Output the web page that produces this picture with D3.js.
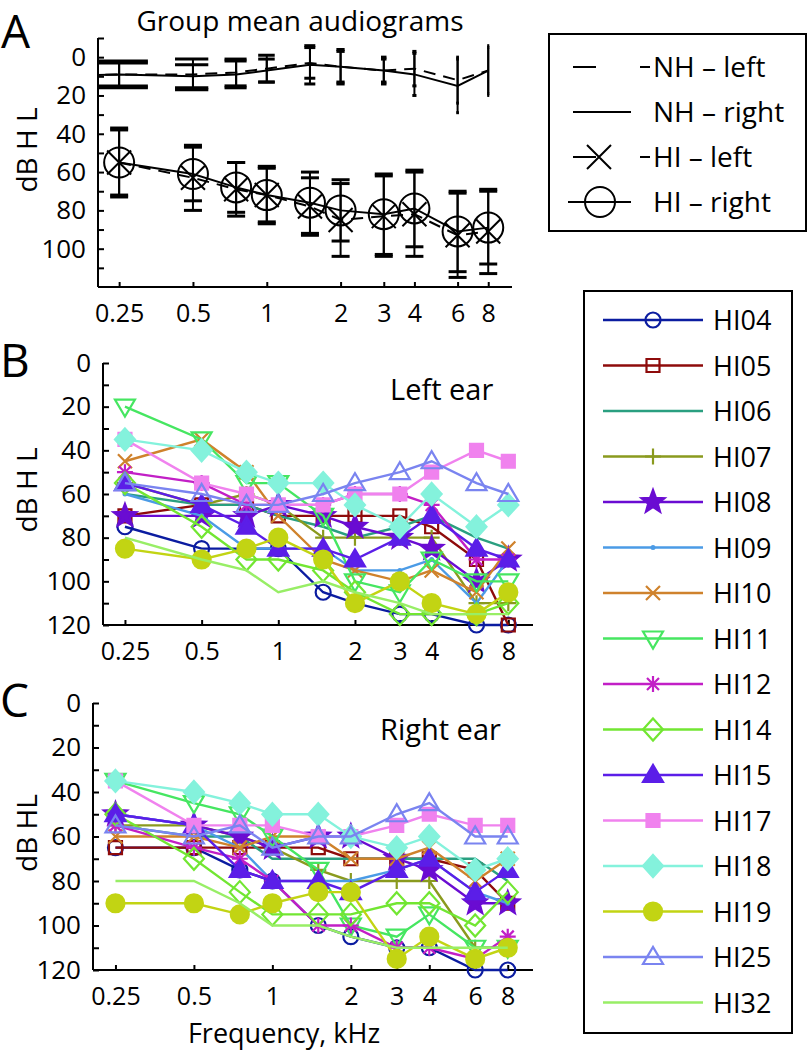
<!DOCTYPE html>
<head>
    <meta charset="utf-8">
    <script src="https://d3js.org/d3.v7.min.js"></script>
</head>
<body style="margin:0; background: white">
<div id="my_dataviz"></div>
<script>
// ---- data -------------------------------------------------------------
var freqs = [0.25, 0.5, 0.75, 1, 1.5, 2, 3, 4, 6, 8];
var freqsNH = [0.125, 0.25, 0.5, 0.75, 1, 1.5, 2, 3, 4, 6, 8];
var xTickValues = [0.25, 0.5, 1, 2, 3, 4, 6, 8];

// group means (panel A), dB HL
var nhLeft    = [10, 9, 9, 8, 6, 3, 5, 7, 6, 12, 7];
var nhLeftSd  = [7, 7, 8, 7, 7, 8, 8, 6, 9, 12, 12];
var nhRight   = [10, 9, 10, 9, 7, 4, 5, 7, 9, 15, 7];
var nhRightSd = [7, 6, 6, 7, 6, 10, 9, 7, 11, 14, 13];
var hiLeft    = [55, 63, 69, 72, 78, 85, 83, 82, 93, 91];
var hiLeftSd  = [18, 17, 14, 15, 15, 19, 21, 22, 22, 22];
var hiRight   = [55, 61, 68, 72, 76, 80, 82, 79, 91, 89];
var hiRightSd = [17, 14, 13, 14, 16, 16, 21, 20, 21, 19];

var subjects = ["HI04", "HI05", "HI06", "HI07", "HI08", "HI09", "HI10", "HI11",
                "HI12", "HI14", "HI15", "HI17", "HI18", "HI19", "HI25", "HI32"];

// one row per subject, same order as subjects
var leftEar = [
    [75, 85, 85, 85, 105, 110, 115, 115, 120, 120],
    [70, 65, 65, 70, 70, 70, 70, 75, 90, 120],
    [60, 65, 65, 70, 75, 80, 75, 70, 80, 85],
    [55, 65, 60, 65, 80, 80, 80, 80, 110, 110],
    [70, 70, 70, 65, 70, 75, 80, 85, 100, 90],
    [60, 70, 85, 85, 85, 95, 95, 90, 110, 90],
    [45, 35, 50, 70, 90, 95, 100, 95, 105, 85],
    [20, 35, 55, 55, 70, 100, 105, 90, 100, 100],
    [50, 55, 65, 65, 65, 60, 60, 65, 90, 90],
    [55, 75, 90, 90, 95, 105, 115, 115, 115, 110],
    [55, 65, 75, 85, 85, 90, 80, 70, 85, 90],
    [35, 55, 60, 65, 65, 60, 60, 50, 40, 45],
    [35, 40, 50, 55, 55, 65, 75, 60, 75, 65],
    [85, 90, 85, 80, 90, 110, 100, 110, 115, 105],
    [55, 60, 65, 65, 60, 55, 50, 45, 55, 60],
    [80, 90, 95, 105, 100, 105, 110, 115, 115, 115]
];
var rightEar = [
    [65, 65, 75, 80, 100, 105, 110, 110, 120, 120],
    [65, 65, 65, 65, 65, 70, 70, 70, 75, 90],
    [55, 60, 60, 70, 70, 70, 70, 70, 70, 80],
    [55, 55, 60, 65, 75, 80, 80, 80, 110, 110],
    [50, 55, 60, 65, 60, 60, 70, 75, 90, 90],
    [50, 55, 65, 80, 80, 80, 75, 70, 85, 90],
    [60, 60, 65, 60, 60, 70, 70, 65, 80, 70],
    [35, 45, 50, 60, 75, 100, 105, 95, 110, 110],
    [55, 65, 70, 80, 100, 100, 110, 110, 115, 105],
    [50, 70, 85, 95, 95, 95, 90, 90, 100, 85],
    [50, 55, 75, 80, 80, 85, 75, 70, 85, 75],
    [35, 55, 55, 55, 60, 60, 55, 50, 55, 55],
    [35, 40, 45, 50, 50, 60, 65, 60, 75, 70],
    [90, 90, 95, 90, 85, 85, 115, 105, 115, 110],
    [55, 60, 55, 65, 60, 60, 50, 45, 60, 60],
    [80, 80, 90, 100, 100, 105, 110, 110, 110, 110]
];

// ---- styles -----------------------------------------------------------
var colors = ["#0b1ca0", "#8e0b0b", "#2a9f80", "#8a9a1e", "#6a0cd2", "#4b9be6",
              "#cf822c", "#46e661", "#c21fc6", "#72e632", "#5b1ee8", "#f082ee",
              "#84f2dc", "#c2d413", "#7a84f0", "#98ee66"];
var markers = ["o", "s", "none", "+", "p", ".", "x", "v",
               "*", "d", "^", "s", "d", "o", "^", "none"];
var filled = [false, false, false, false, true, true, false, false,
              false, false, true, true, true, true, false, false];

var font = "'Open Sans', sans-serif";

var svg = d3.select("#my_dataviz")
    .append("svg")
    .attr("width", 810)
    .attr("height", 1053);

// ---- helpers ----------------------------------------------------------
function markerPath(type) {
    switch (type) {
        case "s": return "M-6.5,-6.5H6.5V6.5H-6.5Z";
        case "+": return "M-8,0H8M0,-8V8";
        case "x": return "M-7,-7L7,7M-7,7L7,-7";
        case "*": return "M-8,0H8M0,-8V8M-6,-6L6,6M-6,6L6,-6";
        case "v": return "M-10,-7L10,-7L0,10Z";
        case "^": return "M-10,7L10,7L0,-10Z";
        case "d": return "M0,-11L10,0L0,11L-10,0Z";
        case "p":
            var pts = [];
            for (var k = 0; k < 10; k++) {
                var r = k % 2 === 0 ? 12 : 5;
                var a = -Math.PI / 2 + k * Math.PI / 5;
                pts.push((r * Math.cos(a)).toFixed(2) + "," + (r * Math.sin(a)).toFixed(2));
            }
            return "M" + pts.join("L") + "Z";
    }
    return null;
}

function drawMarker(g, type, cx, cy, color, isFilled) {
    if (type === "none") return;
    if (type === "o") {
        g.append("circle").attr("cx", cx).attr("cy", cy)
            .attr("r", isFilled ? 9 : 7.5)
            .attr("fill", isFilled ? color : "none")
            .attr("stroke", color).attr("stroke-width", 2.2);
    } else if (type === ".") {
        g.append("circle").attr("cx", cx).attr("cy", cy).attr("r", 2.5).attr("fill", color);
    } else {
        g.append("path").attr("d", markerPath(type))
            .attr("transform", "translate(" + cx + "," + cy + ")")
            .attr("fill", isFilled ? color : "none")
            .attr("stroke", color).attr("stroke-width", 2.2)
            .attr("stroke-linejoin", "miter");
    }
}

function drawAxes(x, y, yTicks, yLabelOk) {
    var gy = svg.append("g")
        .attr("transform", "translate(" + x.range()[0] + ",0)")
        .call(d3.axisLeft(y).tickValues(yTicks).tickSizeInner(-6).tickSizeOuter(0)
            .tickPadding(12).tickFormat(function (d) { return yLabelOk(d) ? d : ""; }));
    var gx = svg.append("g")
        .attr("transform", "translate(0," + y.range()[1] + ")")
        .call(d3.axisBottom(x).tickValues(xTickValues).tickSizeInner(-5).tickSizeOuter(0)
            .tickPadding(17).tickFormat(function (d) { return String(d); }));
    gy.attr("font-size", 26);
    gx.attr("font-size", 25);
    [gx, gy].forEach(function (g) {
        g.attr("font-family", font);
        g.selectAll("path, line").attr("stroke", "black").attr("stroke-width", 2);
        g.selectAll("text").attr("fill", "black");
    });
    gx.select(".domain").attr("d", "M" + x.range()[0] + ",0H" + x.range()[1]);
    gy.select(".domain").attr("d", "M0," + y.range()[0] + "V" + y.range()[1]);
}

function label(txt, x, y, size, anchor) {
    return svg.append("text").attr("x", x).attr("y", y)
        .attr("font-family", font).attr("font-size", size)
        .attr("text-anchor", anchor || "start").text(txt);
}

function yTitle(txt, x, y) {
    svg.append("text")
        .attr("transform", "translate(" + x + "," + y + ") rotate(-90)")
        .attr("font-family", font).attr("font-size", 28)
        .attr("text-anchor", "middle").text(txt);
}

// ---- panel A ----------------------------------------------------------
var xA = d3.scaleLog().domain([0.205, 10]).range([98, 512]);
var yA = d3.scaleLinear().domain([-10, 120]).range([38, 287]);

svg.append("clipPath").attr("id", "clipA").append("rect")
    .attr("x", 98).attr("y", 30).attr("width", 414).attr("height", 257);

drawAxes(xA, yA, d3.range(-10, 111, 10), function (d) { return d >= 0 && d <= 100 && d % 20 === 0; });

var gA = svg.append("g").attr("clip-path", "url(#clipA)");
var lineNH = d3.line().x(function (d, i) { return xA(freqsNH[i]); }).y(function (d) { return yA(d); });
var lineHI = d3.line().x(function (d, i) { return xA(freqs[i]); }).y(function (d) { return yA(d); });
var tee = (8 - 0.25) / 100;

function nhBars(mean, sd) {
    mean.forEach(function (m, i) {
        var f = freqsNH[i];
        gA.append("line").attr("x1", xA(f)).attr("x2", xA(f))
            .attr("y1", yA(m - sd[i])).attr("y2", yA(m + sd[i]))
            .attr("stroke", "black").attr("stroke-width", 2);
        [m - sd[i], m + sd[i]].forEach(function (v) {
            gA.append("line").attr("x1", xA(Math.max(f - tee, 0.02))).attr("x2", xA(f + tee))
                .attr("y1", yA(v)).attr("y2", yA(v))
                .attr("stroke", "black").attr("stroke-width", 3);
        });
    });
}
function hiBars(mean, sd) {
    mean.forEach(function (m, i) {
        var cx = xA(freqs[i]);
        gA.append("line").attr("x1", cx).attr("x2", cx)
            .attr("y1", yA(m - sd[i])).attr("y2", yA(m + sd[i]))
            .attr("stroke", "black").attr("stroke-width", 2);
        [m - sd[i], m + sd[i]].forEach(function (v) {
            gA.append("line").attr("x1", cx - 9).attr("x2", cx + 9)
                .attr("y1", yA(v)).attr("y2", yA(v))
                .attr("stroke", "black").attr("stroke-width", 3);
        });
    });
}

nhBars(nhLeft, nhLeftSd);
nhBars(nhRight, nhRightSd);
gA.append("path").attr("d", lineNH(nhLeft)).attr("fill", "none")
    .attr("stroke", "black").attr("stroke-width", 2).attr("stroke-dasharray", "12,8");
gA.append("path").attr("d", lineNH(nhRight)).attr("fill", "none")
    .attr("stroke", "black").attr("stroke-width", 2);

hiBars(hiLeft, hiLeftSd);
hiBars(hiRight, hiRightSd);
gA.append("path").attr("d", lineHI(hiLeft)).attr("fill", "none")
    .attr("stroke", "black").attr("stroke-width", 2).attr("stroke-dasharray", "12,8");
gA.append("path").attr("d", lineHI(hiRight)).attr("fill", "none")
    .attr("stroke", "black").attr("stroke-width", 2);
hiLeft.forEach(function (v, i) {
    gA.append("path").attr("d", "M-12,-12L12,12M-12,12L12,-12")
        .attr("transform", "translate(" + xA(freqs[i]) + "," + yA(v) + ")")
        .attr("stroke", "black").attr("stroke-width", 2).attr("fill", "none");
});
hiRight.forEach(function (v, i) {
    gA.append("circle").attr("cx", xA(freqs[i])).attr("cy", yA(v)).attr("r", 15)
        .attr("fill", "none").attr("stroke", "black").attr("stroke-width", 2);
});

label("Group mean audiograms", 300, 31, 28, "middle");
label("A", 1, 48, 46);
yTitle("dB H L", 37, 150);

// ---- legend A ---------------------------------------------------------
var legA = svg.append("g").attr("font-family", font).attr("font-size", 28);
legA.append("rect").attr("x", 549).attr("y", 34).attr("width", 257).attr("height", 197)
    .attr("fill", "white").attr("stroke", "black").attr("stroke-width", 2);
var legARows = [
    {txt: "NH \u2013 left", dash: true, mark: null, y: 67},
    {txt: "NH \u2013 right", dash: false, mark: null, y: 112},
    {txt: "HI \u2013 left", dash: true, mark: "x", y: 157},
    {txt: "HI \u2013 right", dash: false, mark: "o", y: 202}
];
legARows.forEach(function (r) {
    legA.append("line").attr("x1", r.mark === "o" ? 568 : 573).attr("x2", r.dash ? 650 : 631)
        .attr("y1", r.y).attr("y2", r.y)
        .attr("stroke", "black").attr("stroke-width", 2)
        .attr("stroke-dasharray", r.dash ? "23,44" : null);
    if (r.mark === "x") {
        legA.append("path").attr("d", "M-12,-12L12,12M-12,12L12,-12")
            .attr("transform", "translate(599," + r.y + ")")
            .attr("stroke", "black").attr("stroke-width", 2);
    } else if (r.mark === "o") {
        legA.append("circle").attr("cx", 600).attr("cy", r.y).attr("r", 15)
            .attr("fill", "none").attr("stroke", "black").attr("stroke-width", 2);
    }
    legA.append("text").attr("x", 653).attr("y", r.y + 10).text(r.txt);
});

// ---- panels B and C ---------------------------------------------------
function subjectPanel(values, x, y) {
    var line = d3.line().x(function (d, i) { return x(freqs[i]); }).y(function (d) { return y(d); });
    values.forEach(function (row, s) {
        var g = svg.append("g");
        g.append("path").attr("d", line(row)).attr("fill", "none")
            .attr("stroke", colors[s]).attr("stroke-width", 2.4);
        row.forEach(function (v, i) {
            drawMarker(g, markers[s], x(freqs[i]), y(v), colors[s], filled[s]);
        });
    });
}

var xB = d3.scaleLog().domain([0.205, 10]).range([103, 533]);
var yB = d3.scaleLinear().domain([0, 120]).range([363, 625]);
drawAxes(xB, yB, d3.range(0, 121, 10), function (d) { return d % 20 === 0; });
subjectPanel(leftEar, xB, yB);
label("Left ear", 390, 400, 29);
label("B", 0, 377, 46);
yTitle("dB H L", 37, 490);

var xC = d3.scaleLog().domain([0.205, 10]).range([93, 533]);
var yC = d3.scaleLinear().domain([0, 120]).range([703, 970]);
drawAxes(xC, yC, d3.range(0, 121, 10), function (d) { return d % 20 === 0; });
subjectPanel(rightEar, xC, yC);
label("Right ear", 380, 740, 29);
label("C", 0, 717, 46);
yTitle("dB HL", 37, 833);
label("Frequency, kHz", 284, 1043, 27, "middle");

// ---- legend B ---------------------------------------------------------
var legB = svg.append("g").attr("font-family", font).attr("font-size", 27);
legB.append("rect").attr("x", 584).attr("y", 291).attr("width", 208).attr("height", 742)
    .attr("fill", "white").attr("stroke", "black").attr("stroke-width", 2);
subjects.forEach(function (name, s) {
    var cy = 320 + s * 45.5;
    legB.append("line").attr("x1", 603).attr("x2", 703).attr("y1", cy).attr("y2", cy)
        .attr("stroke", colors[s]).attr("stroke-width", 2.4);
    drawMarker(legB, markers[s], 653, cy, colors[s], filled[s]);
    legB.append("text").attr("x", 713).attr("y", cy + 10).text(name);
});
</script>
</body>
</html>
